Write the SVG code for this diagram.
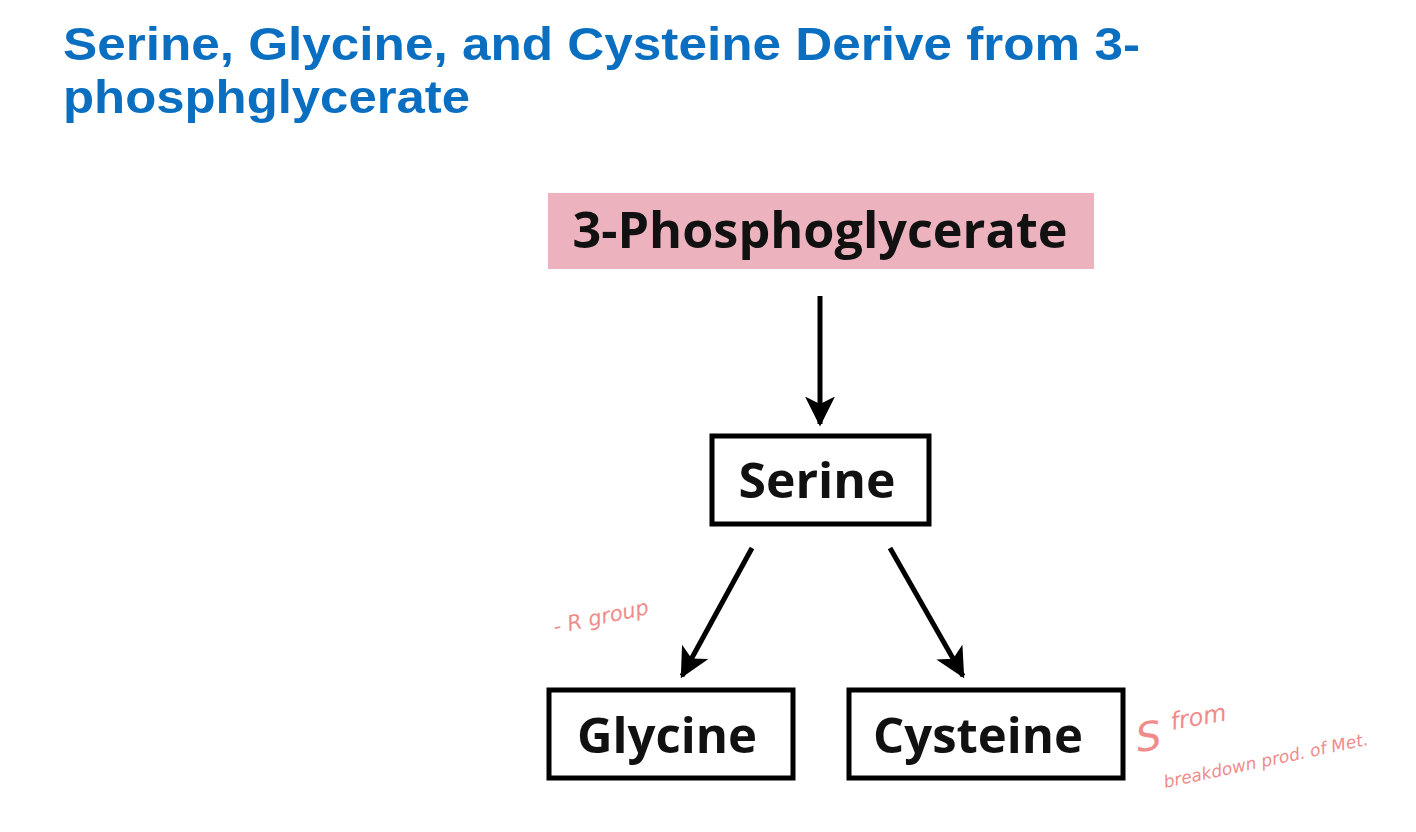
<svg xmlns="http://www.w3.org/2000/svg" width="1416" height="832" viewBox="0 0 1416 832">
<style>
.t{font-family:"Liberation Sans",Arial,sans-serif;font-weight:bold;font-size:47px;fill:#0b6fc1}
.b{fill:#fff;stroke:#000;stroke-width:5}
.n{font-family:"Open Sans","Noto Sans",sans-serif;font-weight:bold;font-size:48px;fill:#111;text-anchor:middle}
.c{stroke:#000;stroke-width:5;fill:none;marker-end:url(#ah)}
.h{font-family:"DejaVu Sans",sans-serif;font-size:21px;fill:#f08b8b;font-style:italic}
</style>
<defs>
<marker id="ah" viewBox="0 0 12 12" refX="11" refY="6" markerWidth="6" markerHeight="6" orient="auto" markerUnits="strokeWidth">
<path d="M0,0 L12,6 L0,12 L3,6 Z" fill="#000"/>
</marker>
</defs>
<rect width="1416" height="832" fill="#fff"/>
<text class="t" x="63" y="60" textLength="1077" lengthAdjust="spacingAndGlyphs">Serine, Glycine, and Cysteine Derive from 3-</text>
<text class="t" x="63" y="113" textLength="407" lengthAdjust="spacingAndGlyphs">phosphglycerate</text>
<g id="pg">
<rect x="548" y="193" width="546" height="76" fill="#ecb3bf"/>
<text class="n" x="820" y="248" style="font-size:50px" textLength="495" lengthAdjust="spacingAndGlyphs">3-Phosphoglycerate</text>
</g>
<g id="serine">
<rect class="b" x="712" y="436" width="217" height="88"/>
<text class="n" x="817" y="498" textLength="157" lengthAdjust="spacingAndGlyphs">Serine</text>
</g>
<g id="glycine">
<rect class="b" x="549" y="690" width="244" height="88"/>
<text class="n" x="667" y="753" textLength="180" lengthAdjust="spacingAndGlyphs">Glycine</text>
</g>
<g id="cysteine">
<rect class="b" x="849" y="690" width="274" height="88"/>
<text class="n" x="978" y="753" textLength="210" lengthAdjust="spacingAndGlyphs">Cysteine</text>
</g>
<g id="connectors">
<line class="c" x1="820" y1="296" x2="820" y2="424"/>
<line class="c" x1="752" y1="548" x2="682" y2="676"/>
<line class="c" x1="890" y1="548" x2="963" y2="676"/>
</g>
<g id="notes">
<text class="h" x="555" y="634" transform="rotate(-12 555 634)">- R  group</text>
<text class="h" x="1138" y="752" style="font-size:40px" transform="rotate(-8 1138 752)">S</text>
<text class="h" x="1172" y="730" style="font-size:24px" transform="rotate(-10 1172 730)">from</text>
<text class="h" x="1165" y="788" style="font-size:17px" transform="rotate(-12 1165 788)">breakdown  prod. of Met.</text>
</g>
</svg>
